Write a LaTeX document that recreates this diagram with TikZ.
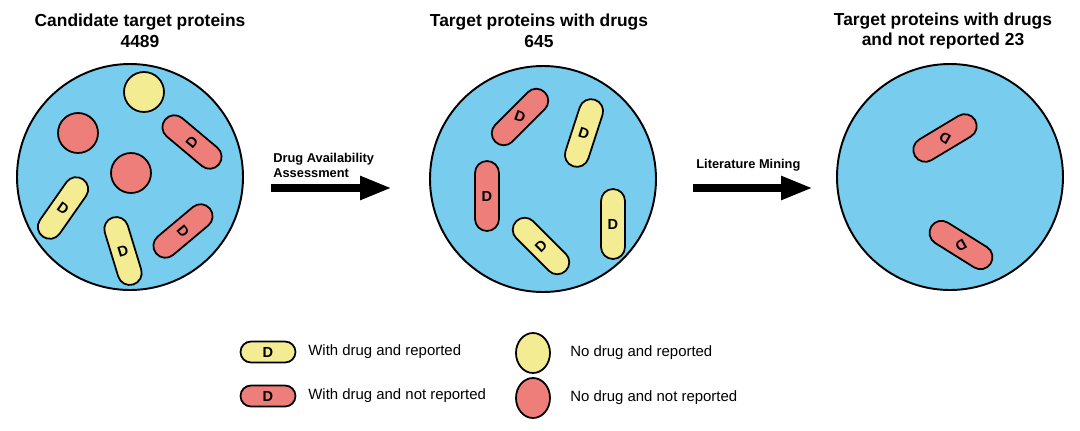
\documentclass[tikz,border=0pt]{standalone}
\usepackage{fontspec}
\setmainfont{Liberation Sans}
\usetikzlibrary{shapes.misc}
\usetikzlibrary{shapes.geometric}
\usetikzlibrary{arrows.meta}
\definecolor{halmazkek}{RGB}{120,204,237}
\definecolor{piroszin}{RGB}{238,126,122}
\definecolor{sargaszin}{RGB}{244,236,147}

\begin{document}
\begin{tikzpicture}[%
x=0.02cm, y=-0.02cm,
halmaz/.style={circle, draw=black, line width=1.1pt, fill=halmazkek, minimum size=226*0.02cm, inner sep=0},
kapszula/.style={rounded rectangle, draw=black, line width=1pt, minimum width=70*0.02cm, minimum height=24*0.02cm, inner sep=0},
golyo/.style={circle, draw=black, line width=1pt, minimum size=40*0.02cm, inner sep=0},
tojas/.style={ellipse, draw=black, line width=1pt, minimum width=34*0.02cm, minimum height=40*0.02cm, inner sep=0},
sarga/.style={fill=sargaszin},
piros/.style={fill=piroszin},
gyogyszer/.style={font=\fontsize{8.3}{9}\selectfont\bfseries, inner sep=0},
cim/.style={font=\fontsize{9.9}{11.9}\selectfont\bfseries, align=center},
lepes/.style={line width=8*0.02cm, -{Triangle[length=32*0.02cm, width=22*0.02cm]}},
lepesfelirat/.style={font=\fontsize{7.3}{8.5}\selectfont\bfseries, align=left, inner sep=0},
jelmagyarazat/.style={font=\fontsize{8.5}{10}\selectfont, anchor=west, inner sep=0},
]
\useasboundingbox (0,0) rectangle (1080,430);

% halmazok
\node[halmaz](c1) at (130,177){};
\node[halmaz](c2) at (543,179){};
\node[halmaz](c3) at (950,177){};

\node[cim](cim1) at (140,31){Candidate target proteins\\4489};
\node[cim](cim2) at (539,31){Target proteins with drugs\\645};
\node[cim](cim3) at (943,31){Target proteins with drugs\\and not reported 23};

% elso halmaz
\node[golyo, sarga](g11) at (144,92){};
\node[golyo, piros](g12) at (78,133){};
\node[golyo, piros](g13) at (131,173){};
\node[kapszula, piros, rotate=-40](k11) at (192,142){};
\node[gyogyszer, rotate=50] at (k11){D};
\node[kapszula, sarga, rotate=55](k12) at (63,208){};
\node[gyogyszer, rotate=-35] at (k12){D};
\node[kapszula, sarga, rotate=-73](k13) at (123,251){};
\node[gyogyszer, rotate=17] at (k13){D};
\node[kapszula, piros, rotate=40](k14) at (183,231){};
\node[gyogyszer, rotate=-50] at (k14){D};

% masodik halmaz
\node[kapszula, piros, rotate=45](k21) at (520,117){};
\node[gyogyszer, rotate=-20] at (k21){D};
\node[kapszula, sarga, rotate=72](k22) at (584,133){};
\node[gyogyszer, rotate=-18] at (k22){D};
\node[kapszula, piros, rotate=90](k23) at (487,196){};
\node[gyogyszer] at (k23){D};
\node[kapszula, sarga, rotate=-45](k24) at (541,246){};
\node[gyogyszer, rotate=45] at (k24){D};
\node[kapszula, sarga, rotate=90](k25) at (613,224){};
\node[gyogyszer] at (k25){D};

% harmadik halmaz
\node[kapszula, piros, rotate=31](k31) at (945,138){};
\node[gyogyszer, rotate=150] at (k31){D};
\node[kapszula, piros, rotate=-32](k32) at (961,245){};
\node[gyogyszer, rotate=-150] at (k32){D};

% lepesek
\coordinate(l1a) at (271,188);
\coordinate(l1b) at (392,188);
\draw[lepes] (l1a)--(l1b);
\node[lepesfelirat, anchor=south west](lf1) at (273,178){Drug Availability\\Assessment};

\coordinate(l2a) at (693,188);
\coordinate(l2b) at (813,188);
\draw[lepes] (l2a)--(l2b);
\node[lepesfelirat, anchor=base west](lf2) at (696,168){Literature Mining};

% jelmagyarazat
\node[kapszula, sarga, minimum width=55*0.02cm, minimum height=21*0.02cm](j1) at (268,352){};
\node[gyogyszer] at (j1){D};
\node[jelmagyarazat](j1t) at (308,352){With drug and reported};
\node[kapszula, piros, minimum width=55*0.02cm, minimum height=21*0.02cm](j2) at (268,396){};
\node[gyogyszer] at (j2){D};
\node[jelmagyarazat](j2t) at (308,396){With drug and not reported};

\node[tojas, sarga](j3) at (533,353){};
\node[jelmagyarazat](j3t) at (570,353){No drug and reported};
\node[tojas, piros](j4) at (533,398){};
\node[jelmagyarazat](j4t) at (570,398){No drug and not reported};

\end{tikzpicture}
\end{document}
